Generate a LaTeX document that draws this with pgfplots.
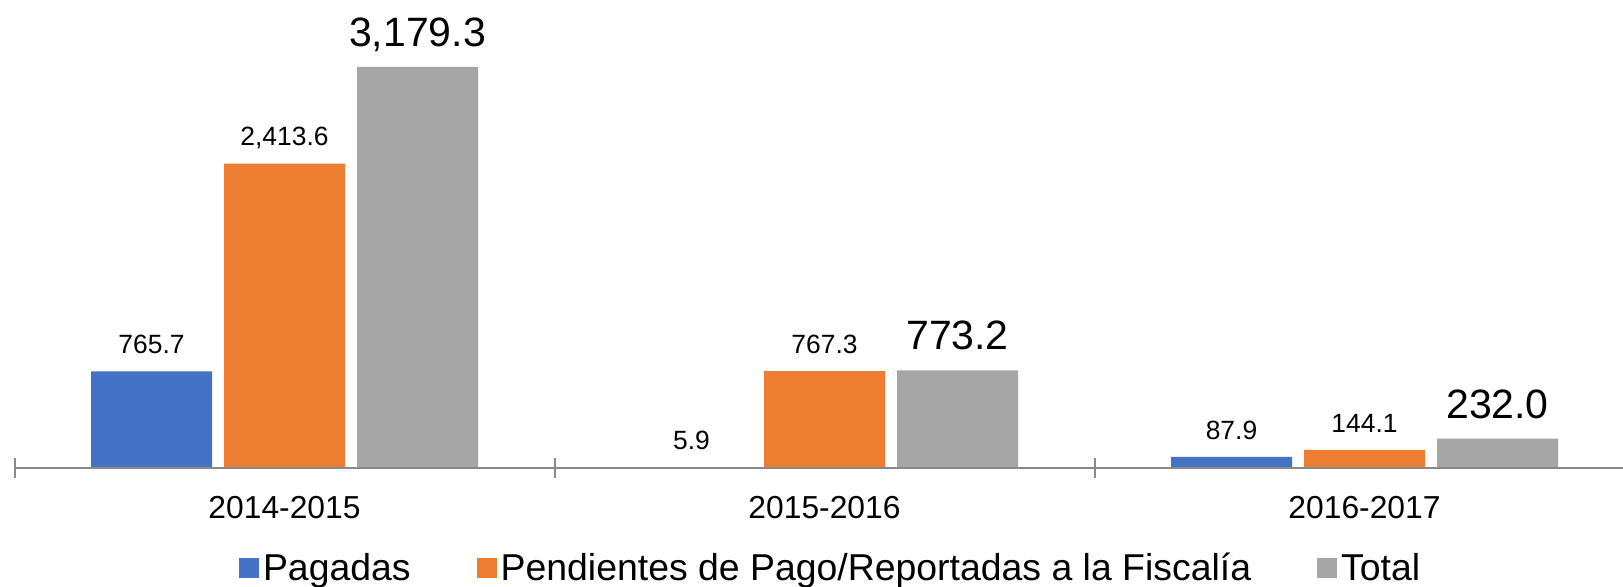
\documentclass[border=0pt]{standalone}
\usepackage{pgfplots}
\pgfplotsset{compat=1.18}
\usepackage{fontspec}
\setmainfont{Liberation Sans}
\definecolor{cblue}{HTML}{4472C4}
\definecolor{corange}{HTML}{ED7D31}
\definecolor{cgray}{HTML}{A5A5A5}
\definecolor{caxis}{HTML}{898989}
\begin{document}
\begin{tikzpicture}
\begin{axis}[
  scale only axis,
  width=804.25pt, height=234pt,
  xmin=-0.5, xmax=2.4787,
  ymin=0, ymax=3710.5,
  clip=false,
  axis on top,
  ybar=6pt, bar width=60.5pt,
  hide y axis,
  axis x line*=bottom,
  x axis line style={-, draw=caxis, line width=1pt},
  xtick={0,1,2},
  xticklabels={{2014-2015},{2015-2016},{2016-2017}},
  major tick length=0pt,
  minor xtick={-0.5,0.5,1.5},
  minor tick length=10pt,
  tick align=center,
  minor tick style={draw=caxis, line width=1pt},
  xticklabel style={anchor=base, yshift=-25.2pt, font=\fontsize{15.9}{19}\selectfont},
  nodes near coords,
  every node near coord/.append style={anchor=base, yshift=8.8pt, font=\fontsize{13.2}{16}\selectfont},
  /pgf/number format/.cd, fixed, fixed zerofill, precision=1, 1000 sep={,}, assume math mode=true,
  /pgfplots/.cd,
  legend columns=3,
  legend style={draw=none, at={(rel axis cs:0.508,-0.2137)}, anchor=center,
    font=\fontsize{18.7}{22}\selectfont,
    /tikz/every even column/.append style={column sep=31pt}},
  legend image code/.code={\path[#1, draw=none] (-1.5pt,-4.85pt) rectangle (8.5pt,4.85pt);},
]
\addplot[fill=cblue, draw=none] coordinates {(0,765.7) (1,5.9) (2,87.9)};
\addplot[fill=corange, draw=none] coordinates {(0,2413.6) (1,767.3) (2,144.1)};
\addplot[fill=cgray, draw=none, every node near coord/.append style={font=\fontsize{20.5}{25}\selectfont, yshift=1.5pt}] coordinates {(0,3179.3) (1,773.2) (2,232.0)};
\legend{Pagadas, Pendientes de Pago/Reportadas a la Fiscalía, Total}
\end{axis}
\pgfresetboundingbox
\useasboundingbox (current axis.south west) ++(-7.25pt,-59.5pt) rectangle ++(811.5pt,293.5pt);
\end{tikzpicture}
\end{document}
